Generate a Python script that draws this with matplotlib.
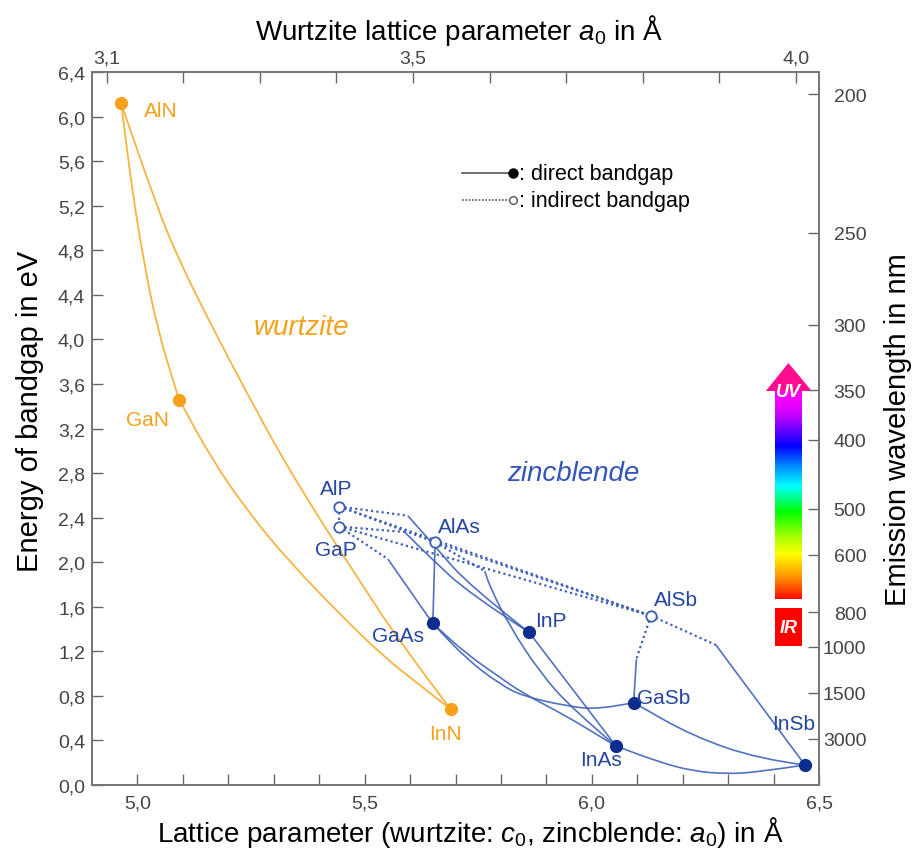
import numpy as np
import matplotlib.pyplot as plt
from matplotlib.colors import LinearSegmentedColormap
from matplotlib.patches import Polygon, Rectangle, PathPatch
from matplotlib.path import Path

plt.rcParams['font.family'] = ['Liberation Sans', 'DejaVu Sans']
plt.rcParams['mathtext.fontset'] = 'custom'
plt.rcParams['mathtext.rm'] = 'Liberation Sans'
plt.rcParams['mathtext.it'] = 'Liberation Sans:italic'

ORANGE = '#f7a11a'
ORANGE_LINE = '#f8b443'
NAVY = '#0c2d8e'
BLUE_LINE = '#3f62b8'
BLUE_TEXT = '#2446a0'
GRAY = '#444444'

# wurtzite nitrides: lattice parameter c0 (Å) and bandgap (eV)
wz_names = ['AlN', 'GaN', 'InN']
wz_c = [4.964, 5.092, 5.689]
wz_eg = [6.12, 3.46, 0.68]

# zincblende III-V binaries: lattice parameter a0 (Å), bandgap (eV), direct gap
zb_names = ['AlP', 'GaP', 'AlAs', 'GaAs', 'InP', 'AlSb', 'GaSb', 'InAs', 'InSb']
zb_a = [5.444, 5.444, 5.655, 5.650, 5.862, 6.130, 6.092, 6.053, 6.469]
zb_eg = [2.50, 2.32, 2.18, 1.45, 1.37, 1.52, 0.74, 0.35, 0.18]
zb_direct = [False, False, False, True, True, False, True, True, True]

# indirect -> direct crossover points of the ternary alloys
cross_names = ['AlInP', 'GaInP', 'GaAsP', 'AlInAs', 'AlGaSb', 'AlInSb']
cross_a = [5.595, 5.588, 5.551, 5.764, 6.098, 6.273]
cross_eg = [2.417, 2.271, 2.029, 1.921, 1.131, 1.257]

# wurtzite ternaries (start, intermediate points, end)
wz_paths = [
    ('AlN', [(4.989, 5.320), (5.013, 4.722), (5.042, 4.123), (5.086, 3.525)], 'GaN'),
    ('GaN', [(5.163, 2.926), (5.247, 2.433), (5.335, 2.002), (5.445, 1.535),
             (5.540, 1.158), (5.621, 0.898)], 'InN'),
    ('AlN', [(5.042, 5.200), (5.090, 4.722), (5.163, 4.123), (5.240, 3.525),
             (5.320, 2.926), (5.408, 2.343), (5.482, 1.876), (5.577, 1.284)], 'InN'),
]

# zincblende ternaries, indirect branches
indirect_pairs = [
    ('AlP', 'GaP'), ('AlP', 'AlInP'), ('GaP', 'GaInP'), ('GaP', 'GaAsP'),
    ('AlP', 'AlAs'), ('AlAs', 'AlInAs'), ('AlP', 'AlSb'), ('AlAs', 'AlSb'),
    ('GaP', 'AlSb'), ('AlSb', 'AlGaSb'), ('AlSb', 'AlInSb'),
]

# zincblende ternaries, direct branches
direct_paths = [
    ('AlInP', [(5.656, 2.136), (5.731, 1.786)], 'InP'),
    ('GaInP', [(5.643, 2.047), (5.731, 1.715)], 'InP'),
    ('GaAsP', [], 'GaAs'),
    ('AlAs', [], 'GaAs'),
    ('AlInAs', [(5.778, 1.759), (5.819, 1.427), (5.885, 1.014), (5.957, 0.682)], 'InAs'),
    ('GaAs', [(5.724, 1.176), (5.797, 0.969), (5.847, 0.826), (5.944, 0.619),
              (6.016, 0.440)], 'InAs'),
    ('GaAs', [(5.724, 1.131), (5.797, 0.907), (5.847, 0.799), (5.944, 0.709),
              (6.016, 0.676)], 'GaSb'),
    ('InP', [], 'InAs'),
    ('AlGaSb', [], 'GaSb'),
    ('AlInSb', [], 'InSb'),
    ('GaSb', [(6.221, 0.440), (6.368, 0.233)], 'InSb'),
    ('InAs', [(6.148, 0.206), (6.221, 0.126), (6.296, 0.099), (6.368, 0.117)], 'InSb'),
]

# emission wavelength ticks (nm)
wl_ticks = [200, 250, 300, 350, 400, 500, 600, 800, 1000, 1500, 3000]

# visible spectrum colours along the energy axis
spec_eg = [1.670, 1.697, 1.876, 2.074, 2.235, 2.451, 2.684, 2.881, 3.043, 3.258, 3.375, 3.537]
spec_col = ['#ff0000', '#ff2000', '#ff9900', '#ffff00', '#a0ff00', '#00ff00',
            '#00ffff', '#0080ff', '#0000ff', '#9900ff', '#e000ff', '#ff00ff']

# label placement
label_pos = {
    'AlN': (5.052, 6.055), 'GaN': (5.023, 3.285), 'InN': (5.679, 0.458),
    'AlP': (5.437, 2.666), 'GaP': (5.437, 2.114), 'AlAs': (5.708, 2.321),
    'GaAs': (5.574, 1.34), 'InP': (5.909, 1.477), 'AlSb': (6.186, 1.665),
    'GaSb': (6.159, 0.790), 'InAs': (6.021, 0.233), 'InSb': (6.443, 0.555),
}

pts = {n: (a, e) for n, a, e in zip(wz_names, wz_c, wz_eg)}
pts.update({n: (a, e) for n, a, e in zip(zb_names, zb_a, zb_eg)})
pts.update({n: (a, e) for n, a, e in zip(cross_names, cross_a, cross_eg)})


def smooth_path(seq):
    # quadratic Bezier pieces that use the inner points as control points
    seq = np.asarray(seq, float)
    if len(seq) < 3:
        return Path(seq)
    verts = [seq[0], (seq[0] + seq[1]) / 2]
    codes = [Path.MOVETO, Path.LINETO]
    for i in range(1, len(seq) - 1):
        end = seq[i + 1] if i == len(seq) - 2 else (seq[i] + seq[i + 1]) / 2
        verts += [seq[i], end]
        codes += [Path.CURVE3, Path.CURVE3]
    return Path(verts, codes)


def draw_curve(seq, **kw):
    ax.add_patch(PathPatch(smooth_path(seq), fill=False, **kw))


fig = plt.figure(figsize=(9.13, 8.54), dpi=100)
ax = fig.add_axes([0.1008, 0.0796, 0.7963, 0.8349])

# wurtzite curves
for s, mid, e in wz_paths:
    draw_curve([pts[s]] + mid + [pts[e]], edgecolor=ORANGE_LINE, lw=1.3, zorder=2)
ax.plot(wz_c, wz_eg, 'o', ms=8.5, color=ORANGE, zorder=5)

# zincblende curves
for s, e in indirect_pairs:
    a, eg = zip(pts[s], pts[e])
    ax.plot(a, eg, color=BLUE_LINE, lw=1.6, ls=(0, (1, 1.4)), zorder=3)
for s, mid, e in direct_paths:
    draw_curve([pts[s]] + mid + [pts[e]], edgecolor=BLUE_LINE, lw=1.2, alpha=0.9, zorder=3)

d = np.array(zb_direct)
ax.plot(np.array(zb_a)[d], np.array(zb_eg)[d], 'o', ms=8.5, color=NAVY, zorder=5)
ax.plot(np.array(zb_a)[~d], np.array(zb_eg)[~d], 'o', ms=7.5, mfc='white',
        mec='#3a5db0', mew=1.3, zorder=5)

for name, (x, y) in label_pos.items():
    col = ORANGE if name in wz_names else BLUE_TEXT
    ax.text(x, y, name, color=col, fontsize=15, ha='center', va='center', zorder=6)

ax.text(5.360, 4.111, 'wurtzite', color=ORANGE, fontsize=20, style='italic',
        ha='center', va='center')
ax.text(5.959, 2.801, 'zincblende', color='#3355bb', fontsize=20, style='italic',
        ha='center', va='center')

# legend
ax.plot([0.509, 0.574], [0.858, 0.858], color='#555555', lw=1.2, transform=ax.transAxes)
ax.plot([0.579], [0.858], 'o', ms=6.5, color='black', transform=ax.transAxes)
ax.plot([0.509, 0.574], [0.8205, 0.8205], color='#555555', lw=1.2, ls=(0, (1, 1)),
        transform=ax.transAxes)
ax.plot([0.579], [0.8205], 'o', ms=5.5, mfc='white', mec='#555555', mew=1,
        transform=ax.transAxes)
ax.text(0.587, 0.858, ': direct bandgap', fontsize=15.5, va='center', transform=ax.transAxes)
ax.text(0.587, 0.8205, ': indirect bandgap', fontsize=15.5, va='center', transform=ax.transAxes)

# spectrum bar with UV arrow and IR box
bx0, bx1 = 6.4033, 6.4626
cmap = LinearSegmentedColormap.from_list(
    'spec', list(zip((np.array(spec_eg) - spec_eg[0]) / (spec_eg[-1] - spec_eg[0]), spec_col)))
ax.imshow(np.linspace(0, 1, 256).reshape(-1, 1), cmap=cmap, origin='lower',
          extent=[bx0, bx1, spec_eg[0], spec_eg[-1]], aspect='auto', zorder=4)
ax.add_patch(Polygon([(6.383, 3.537), (6.4325, 3.788), (6.484, 3.537)],
                     closed=True, color='#ff0d8f', lw=0, zorder=4))
ax.add_patch(Rectangle((bx0, 1.248), bx1 - bx0, 0.341, color='#ff0000', lw=0, zorder=4))
ax.text(6.4325, 3.535, 'UV', color='white', fontsize=13, weight='bold', style='italic',
        ha='center', va='center', zorder=6)
ax.text(6.4325, 1.418, 'IR', color='white', fontsize=13, weight='bold', style='italic',
        ha='center', va='center', zorder=6)

ax.set_xlim(4.9, 6.5)
ax.set_ylim(0, 6.4)

xt = np.round(np.arange(5.0, 6.51, 0.1), 1)
ax.set_xticks(xt)
ax.set_xticklabels([f'{t:.1f}'.replace('.', ',') if round(t * 10) % 5 == 0 else '' for t in xt])
yt = np.round(np.arange(0, 6.41, 0.4), 1)
ax.set_yticks(yt)
ax.set_yticklabels([f'{t:.1f}'.replace('.', ',') for t in yt])
ax.tick_params(direction='in', length=8, width=1, color='#666666', labelcolor=GRAY,
               labelsize=14)
ax.tick_params(axis='x', pad=7)
ax.tick_params(axis='y', pad=5)

# wavelength axis
ax2 = ax.twinx()
ax2.set_ylim(0, 6.4)
ax2.set_yticks([1239.84 / w for w in wl_ticks])
ax2.set_yticklabels([str(w) for w in wl_ticks], ha='right')
ax2.tick_params(direction='in', length=8, width=1, color='#666666', labelcolor=GRAY,
                labelsize=14, pad=34)

# wurtzite a0 axis
ax3 = ax.twiny()
ax3.set_xlim(3.081, 4.030)
at = np.round(np.arange(3.1, 4.01, 0.1), 1)
ax3.set_xticks(at)
ax3.set_xticklabels([f'{t:.1f}'.replace('.', ',') if t in (3.1, 3.5, 4.0) else '' for t in at])
ax3.tick_params(direction='in', length=8, width=1, color='#666666', labelcolor=GRAY,
                labelsize=14, pad=4)

for a in (ax, ax2, ax3):
    for sp in a.spines.values():
        sp.set_color('#777777')
        sp.set_linewidth(1.2)

ax.set_ylabel('Energy of bandgap in eV', fontsize=21)
ax.yaxis.set_label_coords(-0.066, 0.525)
ax.set_xlabel(r'Lattice parameter (wurtzite: $c_0$, zincblende: $a_0$) in Å', fontsize=20)
ax.xaxis.set_label_coords(0.52, -0.04)
ax2.set_ylabel('Emission wavelength in nm', fontsize=21)
ax2.yaxis.set_label_coords(1.089, 0.5)
ax3.set_xlabel(r'Wurtzite lattice parameter $a_0$ in Å', fontsize=20)
ax3.xaxis.set_label_coords(0.505, 1.046)

fig.savefig('out.png', dpi=100)
